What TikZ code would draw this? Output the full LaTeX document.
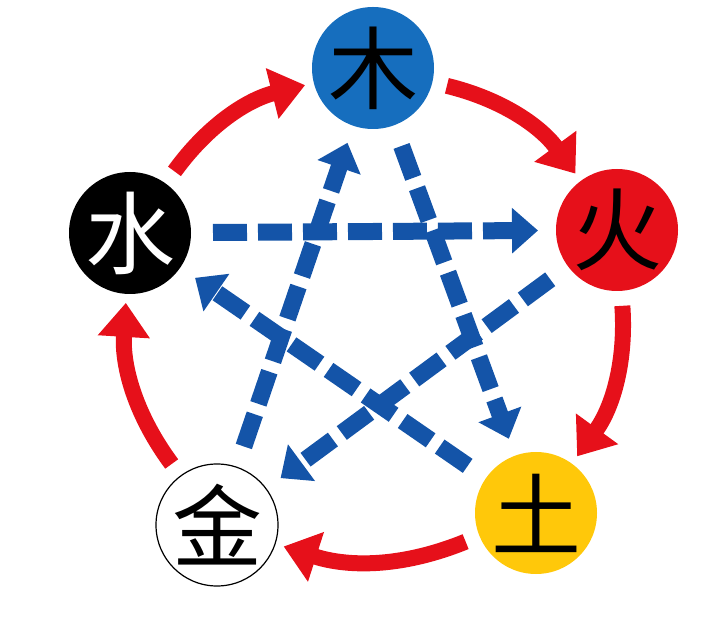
\documentclass[tikz,border=0pt]{standalone}
\usepackage{fontspec}
\usepackage{tikz}
\usetikzlibrary{arrows.meta}
\newfontfamily\cjk{Noto Sans CJK SC}
\definecolor{woodblue}{RGB}{22,110,190}
\definecolor{firered}{RGB}{230,16,26}
\definecolor{earthyellow}{RGB}{255,200,10}
\definecolor{dashblue}{RGB}{20,84,168}

\begin{document}
\begin{tikzpicture}
  [x=1pt,y=1pt,
   every node/.style={circle,minimum size=122pt,inner sep=0pt,outer sep=0pt,
     font=\cjk\fontsize{90}{90}\selectfont},
   sheng/.style={-{Triangle[length=34pt,width=50pt]},line width=16pt,draw=firered,
     bend left=20,shorten <=15pt,shorten >=9pt},
   ke/.style={-{Triangle[length=26pt,width=44pt]},line width=17pt,draw=dashblue,
     dash pattern=on 34pt off 11pt,shorten <=22pt,shorten >=18pt}]
  \useasboundingbox (0,0) rectangle (720,616);

  \node[fill=woodblue] (mu) at (373,548) {木};
  \node[fill=firered] (huo) at (617,386) {火};
  \node[fill=earthyellow] (tu) at (536,103) {土};
  \node[draw=black,line width=1.2pt,fill=white] (jin) at (217,91) {金};
  \node[fill=black,text=white] (shui) at (130,383) {水};

  % sheng cycle
  \draw[sheng] (mu) to (huo);
  \draw[sheng] (huo) to (tu);
  \draw[sheng] (tu) to (jin);
  \draw[sheng] (jin) to (shui);
  \draw[sheng] (shui) to (mu);

  % ke cycle
  \draw[ke] (shui) -- (huo);
  \draw[ke] (mu) -- (tu);
  \draw[ke] (tu) -- (shui);
  \draw[ke] (huo) -- (jin);
  \draw[ke] (jin) -- (mu);

\end{tikzpicture}
\end{document}
